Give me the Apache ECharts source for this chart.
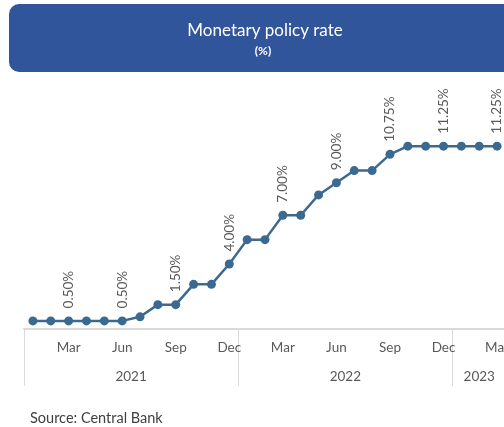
<!DOCTYPE html>
<html>
<head>
<meta charset="utf-8">
<script src="https://cdn.jsdelivr.net/npm/echarts@6/dist/echarts.min.js"></script>
<style>
  html, body { margin: 0; padding: 0; background: #ffffff; }
  #chart { width: 504px; height: 427px; }
</style>
</head>
<body>
<div id="chart"></div>
<script>
// Monthly monetary policy rate, Jan 2021 – Mar 2023
const months = ['Jan','Feb','Mar','Apr','May','Jun','Jul','Aug','Sep','Oct','Nov','Dec',
                'Jan','Feb','Mar','Apr','May','Jun','Jul','Aug','Sep','Oct','Nov','Dec',
                'Jan','Feb','Mar'];
const years = ['2021','2021','2021','2021','2021','2021','2021','2021','2021','2021','2021','2021',
               '2022','2022','2022','2022','2022','2022','2022','2022','2022','2022','2022','2022',
               '2023','2023','2023'];
const rate = [0.50, 0.50, 0.50, 0.50, 0.50, 0.50, 0.75, 1.50, 1.50, 2.75, 2.75, 4.00,
              5.50, 5.50, 7.00, 7.00, 8.25, 9.00, 9.75, 9.75, 10.75, 11.25, 11.25, 11.25,
              11.25, 11.25, 11.25];

const categories = months.map((m, i) => m + ' ' + years[i]);
const FONT = 'Lato, "Open Sans", sans-serif';
const GRAY = '#595959';
const LINE = '#3b6990';

const chart = echarts.init(document.getElementById('chart'), null, { renderer: 'canvas' });

const option = {
  animation: false,
  grid: { left: 24, right: -2, top: 134, bottom: 98, containLabel: false, outerBoundsMode: 'none' },
  xAxis: {
    type: 'category',
    data: categories,
    boundaryGap: true,
    axisLine: { show: true, lineStyle: { color: '#d9d9d9', width: 2 } },
    axisTick: {
      show: true,
      inside: false,
      length: 57,
      interval: (idx) => idx % 12 === 0,
      lineStyle: { color: '#d9d9d9', width: 1 }
    },
    axisLabel: {
      interval: (idx) => idx % 3 === 2,
      formatter: (v) => v.split(' ')[0],
      color: GRAY,
      fontFamily: FONT,
      fontSize: 13.5,
      margin: 12
    },
    splitLine: { show: false }
  },
  yAxis: {
    type: 'value',
    min: 0,
    max: 12,
    show: false,
    splitLine: { show: false }
  },
  series: [{
    type: 'line',
    data: rate,
    symbol: 'circle',
    symbolSize: 9,
    lineStyle: { color: LINE, width: 2.5 },
    itemStyle: { color: LINE },
    label: {
      show: true,
      position: 'top',
      rotate: 90,
      align: 'left',
      verticalAlign: 'middle',
      distance: 8,
      color: GRAY,
      fontFamily: FONT,
      fontSize: 13.5,
      formatter: (p) => (p.dataIndex % 3 === 2 ? p.value.toFixed(2) + '%' : '')
    }
  }],
  graphic: [
    {
      type: 'rect',
      shape: { x: 9, y: 4, width: 512, height: 68, r: 10 },
      style: { fill: '#30559a' }
    },
    {
      type: 'text',
      x: 265, y: 31,
      style: {
        text: 'Monetary policy rate',
        fill: '#ffffff',
        font: '17px ' + FONT,
        textAlign: 'center',
        textVerticalAlign: 'middle'
      }
    },
    {
      type: 'text',
      x: 263, y: 51,
      style: {
        text: '(%)',
        fill: '#ffffff',
        font: 'bold 12px ' + FONT,
        textAlign: 'center',
        textVerticalAlign: 'middle'
      }
    },
    {
      type: 'text',
      x: 30, y: 418,
      style: {
        text: 'Source: Central Bank',
        fill: '#404040',
        font: '14.5px ' + FONT,
        textAlign: 'left',
        textVerticalAlign: 'middle'
      }
    }
  ]
};

chart.setOption(option);

// Year labels centred under each year's span of months
const yearGroups = [];
years.forEach((y, i) => {
  const g = yearGroups[yearGroups.length - 1];
  if (g && g.year === y) g.last = i; else yearGroups.push({ year: y, first: i, last: i });
});
const yearTexts = yearGroups.map((g) => {
  const x0 = chart.convertToPixel({ xAxisIndex: 0 }, categories[g.first]);
  const x1 = chart.convertToPixel({ xAxisIndex: 0 }, categories[g.last]);
  const yPix = chart.convertToPixel({ yAxisIndex: 0 }, 0);
  return {
    type: 'text',
    x: (x0 + x1) / 2,
    y: yPix + 48,
    style: {
      text: g.year,
      fill: GRAY,
      font: '13.5px ' + FONT,
      textAlign: 'center',
      textVerticalAlign: 'middle'
    }
  };
});
chart.setOption({ graphic: option.graphic.concat(yearTexts) });
</script>
</body>
</html>
